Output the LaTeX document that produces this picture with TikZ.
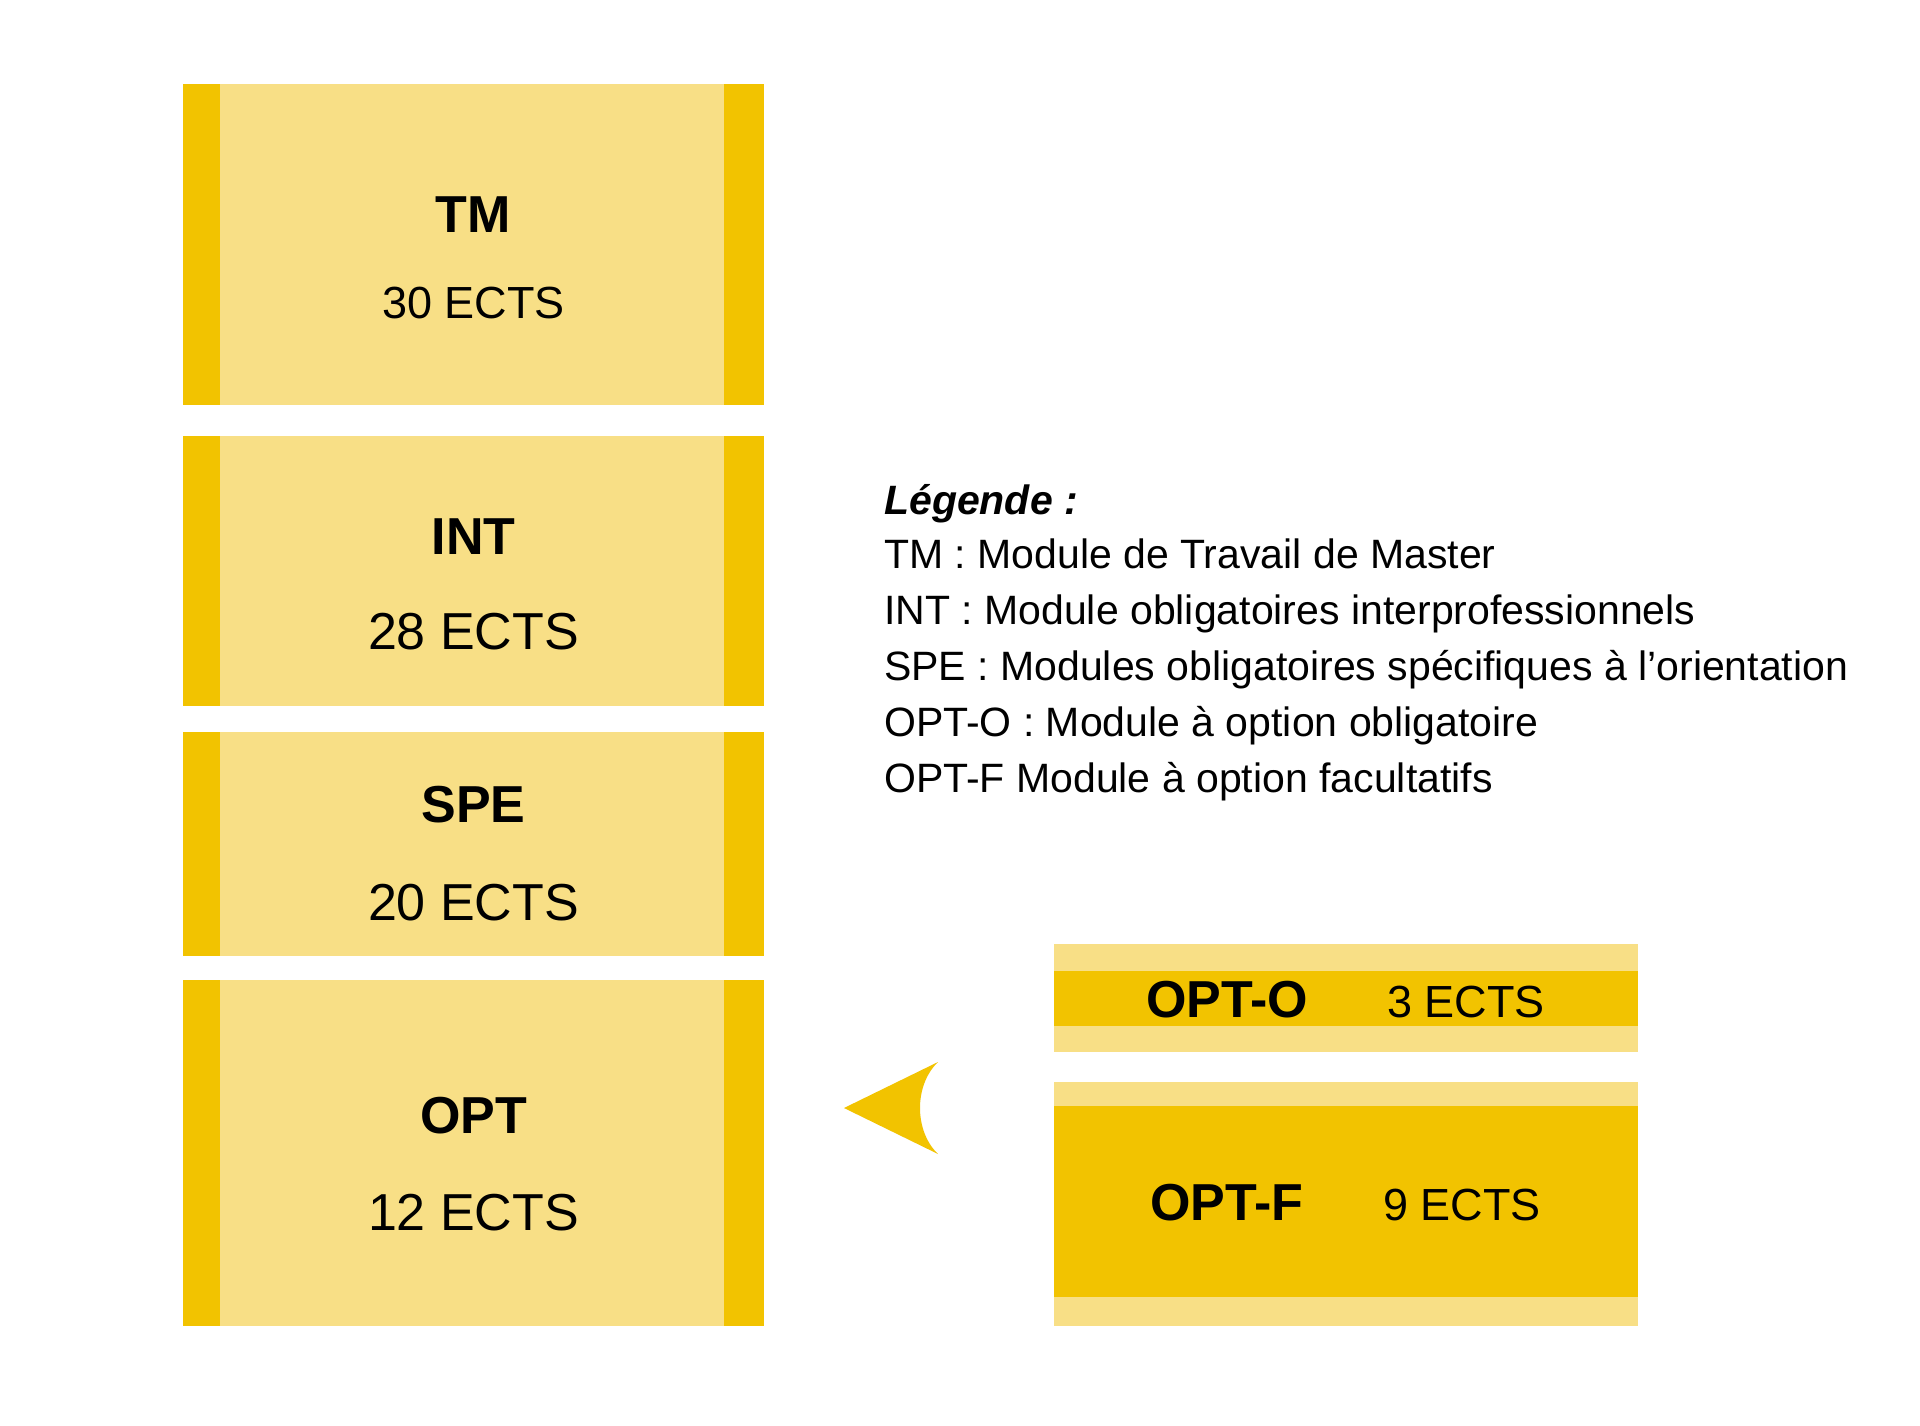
\documentclass[tikz,border=0pt]{standalone}
\usepackage{fontspec}
\setmainfont{Liberation Sans}
\definecolor{gdark}{RGB}{242,195,0}
\definecolor{glight}{RGB}{248,223,134}
\begin{document}
\begin{tikzpicture}[x=1pt,y=-1pt,
  title/.style={font=\fontsize{52}{60}\selectfont\bfseries, inner sep=0pt, anchor=base},
  ectsbig/.style={font=\fontsize{52}{60}\selectfont, inner sep=0pt, anchor=base},
  ectssmall/.style={font=\fontsize{45}{54}\selectfont, inner sep=0pt, anchor=base},
  opttitle/.style={font=\fontsize{52}{60}\selectfont\bfseries, inner sep=0pt, anchor=base west},
  optects/.style={font=\fontsize{45}{54}\selectfont, inner sep=0pt, anchor=base west},
  legend/.style={font=\fontsize{41}{48}\selectfont, inner sep=0pt, anchor=base west}]
\useasboundingbox (0,0) rectangle (1920,1425);
\fill[white] (0,0) rectangle (1920,1425);
% left column boxes
\foreach \t/\b in {84/405, 436/706, 732/956, 980/1326} {
  \fill[glight] (183,\t) rectangle (764,\b);
  \fill[gdark] (183,\t) rectangle (220,\b);
  \fill[gdark] (724,\t) rectangle (764,\b);
}
\node[title] (tm) at (473.5,232) {TM};
\node[ectssmall] (tmects) at (473.5,318) {30 ECTS};
\node[title] (int) at (473.5,554) {INT};
\node[ectsbig] (intects) at (473.5,649) {28 ECTS};
\node[title] (spe) at (473.5,822) {SPE};
\node[ectsbig] (speects) at (473.5,920) {20 ECTS};
\node[title] (opt) at (473.5,1133) {OPT};
\node[ectsbig] (optects) at (473.5,1230) {12 ECTS};
% right boxes
\fill[glight] (1054,944) rectangle (1638,1052);
\fill[gdark] (1054,971) rectangle (1638,1026);
\fill[glight] (1054,1082) rectangle (1638,1326);
\fill[gdark] (1054,1106) rectangle (1638,1297);
\node[opttitle] (opto) at (1146,1017) {OPT-O};
\node[optects] (optoects) at (1387,1017) {3 ECTS};
\node[opttitle] (optf) at (1150,1220) {OPT-F};
\node[optects] (optfects) at (1383,1220) {9 ECTS};
% arrow
\fill[gdark] (844,1108) -- (938,1062) .. controls (914,1085) and (914,1131) .. (938,1154) -- cycle;
% legend
\node[legend] (leg0) at (884,514) {\bfseries\itshape Légende :};
\node[legend] (leg1) at (884,568) {TM : Module de Travail de Master};
\node[legend] (leg2) at (884,624) {INT : Module obligatoires interprofessionnels};
\node[legend] (leg3) at (884,680) {SPE : Modules obligatoires spécifiques à l’orientation};
\node[legend] (leg4) at (884,736) {OPT-O : Module à option obligatoire};
\node[legend] (leg5) at (884,792) {OPT-F Module à option facultatifs};
\end{tikzpicture}
\end{document}
